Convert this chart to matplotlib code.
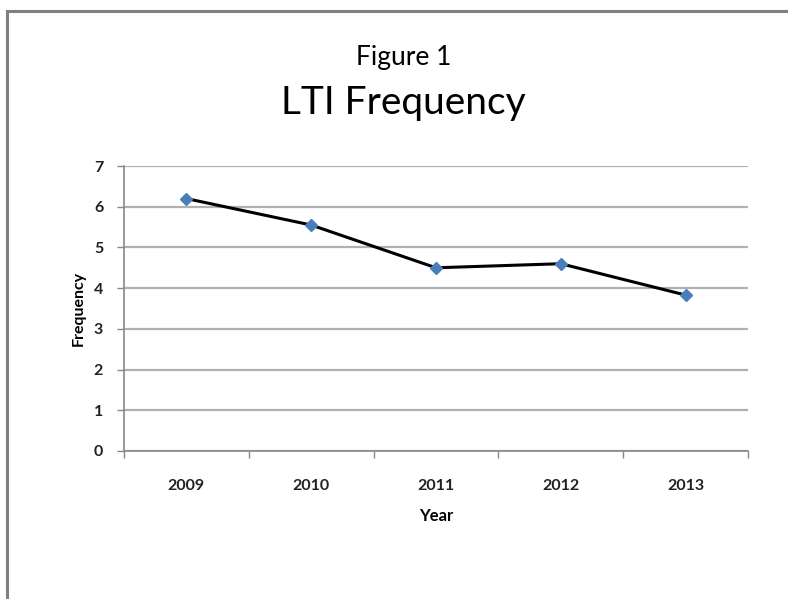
import matplotlib
matplotlib.use("Agg")
import matplotlib.pyplot as plt
from matplotlib.patches import Rectangle
import numpy as np

years = ["2009", "2010", "2011", "2012", "2013"]
frequency = [6.2, 5.55, 4.5, 4.6, 3.83]
yticks = [0, 1, 2, 3, 4, 5, 6, 7]

plt.rcParams['font.family'] = ['Lato', 'DejaVu Sans']

fig = plt.figure(figsize=(7.88, 5.99), dpi=100)
ax = fig.add_axes([124/788, 1-451/599, (748-124)/788, (451-166)/599])

# outer border
fig.patches.append(Rectangle((6.5/788, -0.1), 1.2, 1 - 10.5/599 + 0.1, transform=fig.transFigure,
                             fill=False, edgecolor='#808080', linewidth=2.2, clip_on=False))

x = np.arange(len(years))
ax.plot(x, frequency, color='black', linewidth=2.2, zorder=3)
ax.plot(x, frequency, linestyle='none', marker='D', markersize=6, color='#4a7ebb', zorder=4)

ax.set_xlim(-0.5, len(years) - 0.5)
ax.set_ylim(0, 7)
ax.set_yticks(yticks)
ax.set_yticklabels([str(v) for v in yticks], fontsize=11.5, fontweight='bold', color='#222222')
ax.set_xticks(x)
ax.set_xticklabels(years, fontsize=11.5, fontweight='bold', color='#222222')
ax.set_xticks(np.arange(-0.5, len(years), 1.0), minor=True)
ax.tick_params(axis='x', which='major', length=0, pad=20)
ax.tick_params(axis='x', which='minor', length=5, color='#888888', width=1)
ax.tick_params(axis='y', length=5, color='#888888', width=1, pad=10)

ax.grid(axis='y', color='#b0b0b0', linewidth=1.6)
ax.set_axisbelow(True)
for s in ['top', 'right']:
    ax.spines[s].set_visible(False)
for s in ['left', 'bottom']:
    ax.spines[s].set_color('#888888')
    ax.spines[s].set_linewidth(1.2)

ax.set_xlabel("Year", fontsize=12, fontweight='bold', labelpad=11)
ax.set_ylabel("Frequency", fontsize=11.5, fontweight='bold', labelpad=6)

fig.text(0.512, 1-57/599, "Figure 1", ha='center', va='center', fontsize=19)
fig.text(0.512, 1-103/599, "LTI Frequency", ha='center', va='center', fontsize=28)

fig.savefig("out.png", dpi=100)
